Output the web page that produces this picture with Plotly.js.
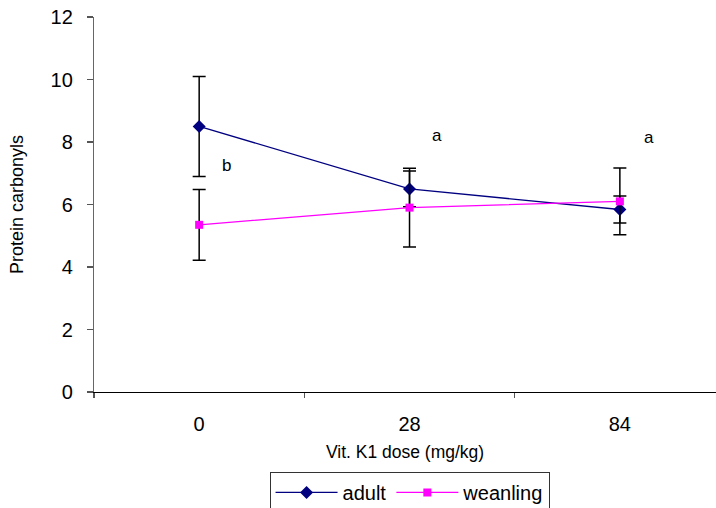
<!DOCTYPE html>
<html>
<head>
<meta charset="utf-8">
<script src="https://cdn.plot.ly/plotly-3.0.1.min.js"></script>
<style>html,body{margin:0;padding:0;background:#fff;}#chart{width:716px;height:508px;}</style>
</head>
<body>
<div id="chart"></div>
<script>
const doses = ["0", "28", "84"];
const adultMean = [8.5, 6.5, 5.84];
const adultErr = [1.6, 0.57, 0.43];
const weanlingMean = [5.35, 5.9, 6.1];
const weanlingErr = [1.13, 1.26, 1.07];
const sigLetters = ["b", "a", "a"];
const seriesNames = ["adult", "weanling"];

const font = "Liberation Sans, Arial, sans-serif";

const traces = [
  {
    x: doses, y: adultMean, name: seriesNames[0], type: "scatter", mode: "lines+markers",
    line: {color: "#000080", width: 1.3},
    marker: {symbol: "diamond", size: 10, color: "#000080"},
    error_y: {type: "data", array: adultErr, visible: true, color: "#000", thickness: 1.5, width: 6.5}
  },
  {
    x: doses, y: weanlingMean, name: seriesNames[1], type: "scatter", mode: "lines+markers",
    line: {color: "#FF00FF", width: 1.3},
    marker: {symbol: "square", size: 8, color: "#FF00FF"},
    error_y: {type: "data", array: weanlingErr, visible: true, color: "#000", thickness: 1.5, width: 6.5}
  }
];

const letterOffsets = [[0.13, 7.25], [1.13, 8.2], [2.14, 8.15]];
const annotations = sigLetters.map((t, i) => ({
  x: letterOffsets[i][0], y: letterOffsets[i][1], xref: "x", yref: "y",
  text: t, showarrow: false, font: {family: font, size: 17, color: "#000"}
}));

const layout = {
  width: 716, height: 508,
  margin: {l: 94, r: 0, t: 17, b: 116},
  paper_bgcolor: "#fff", plot_bgcolor: "#fff",
  font: {family: font, color: "#000"},
  showlegend: true,
  legend: {
    orientation: "h", xref: "container", yref: "container",
    x: 0.572, xanchor: "center", y: 0.071, yanchor: "top",
    bordercolor: "#333", borderwidth: 1, bgcolor: "#fff",
    font: {family: font, size: 20, color: "#000"}, itemwidth: 62
  },
  xaxis: {
    type: "category", range: [-0.5, 2.457], tickson: "boundaries",
    showline: true, linecolor: "#000", linewidth: 1.2,
    ticks: "outside", ticklen: 5, tickcolor: "#555", tickwidth: 1.2,
    showgrid: false, zeroline: false,
    tickfont: {family: font, size: 20, color: "#000"}, ticklabelstandoff: 14,
    title: {text: "Vit. K1 dose (mg/kg)", font: {family: font, size: 17.5, color: "#000"}, standoff: 11}
  },
  yaxis: {
    range: [0, 12], dtick: 2, tick0: 0,
    showline: true, linecolor: "#666", linewidth: 1.2,
    ticks: "outside", ticklen: 6, tickcolor: "#555", tickwidth: 1.2,
    showgrid: false, zeroline: false,
    tickfont: {family: font, size: 20, color: "#000"}, ticklabelstandoff: 10,
    title: {text: "Protein carbonyls", font: {family: font, size: 18, color: "#000"}, standoff: 22}
  },
  annotations: annotations
};

Plotly.newPlot("chart", traces, layout, {displayModeBar: false, staticPlot: true});
</script>
</body>
</html>
